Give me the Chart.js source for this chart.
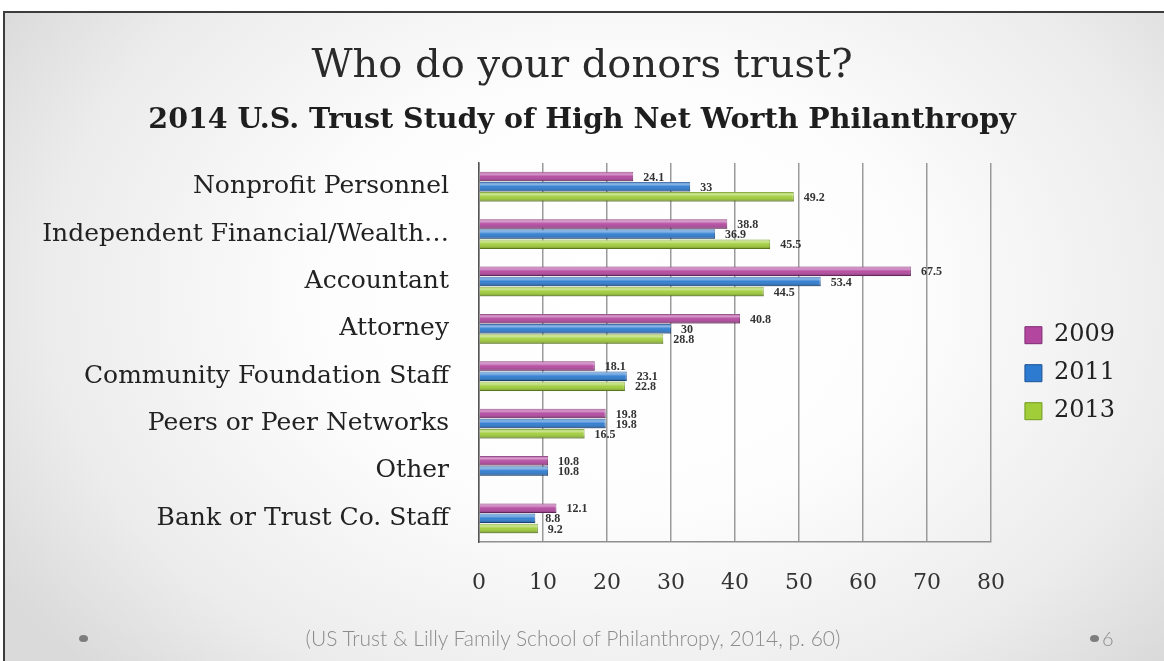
<!DOCTYPE html>
<html>
<head>
<meta charset="utf-8">
<script src="https://cdn.jsdelivr.net/npm/chart.js@4.4.1/dist/chart.umd.min.js"></script>
<style>
html,body{margin:0;padding:0;width:1164px;height:661px;overflow:hidden;background:#ffffff;}
#slide{position:absolute;left:3px;top:11px;width:1180px;height:680px;border:2px solid #3c3c3c;box-sizing:border-box;
  background:radial-gradient(ellipse 62% 80% at 52% 42%, #ffffff 0%, #fdfdfd 40%, #ececec 78%, #dadada 100%);}
#c{position:absolute;left:0;top:0;z-index:2;}
#footer{position:absolute;top:625px;left:223px;width:700px;text-align:center;font-family:Lato,"Open Sans",sans-serif;font-weight:300;font-size:21px;color:#8c8c8c;z-index:3;white-space:nowrap;}
.dot{position:absolute;width:9px;height:7px;border-radius:50%;background:#7d7d7d;z-index:3;}
#pnum{position:absolute;left:1102px;top:626px;font-family:Lato,sans-serif;font-weight:300;font-size:20px;color:#8c8c8c;z-index:3;}
</style>
</head>
<body>
<div id="slide"></div>
<canvas id="c" width="1164" height="661"></canvas>
<div id="footer">(US Trust &amp; Lilly Family School of Philanthropy, 2014, p. 60)</div>
<div class="dot" style="left:79px;top:635px;"></div>
<div class="dot" style="left:1090px;top:635px;"></div>
<div id="pnum">6</div>
<script>
const titleText = 'Who do your donors trust?';
const subtitleText = '2014 U.S. Trust Study of High Net Worth Philanthropy';
const categories = [
  'Nonprofit Personnel',
  'Independent Financial/Wealth\u2026',
  'Accountant',
  'Attorney',
  'Community Foundation Staff',
  'Peers or Peer Networks',
  'Other',
  'Bank or Trust Co. Staff'
];
const seriesNames = ['2009', '2011', '2013'];
const values2009 = [24.1, 38.8, 67.5, 40.8, 18.1, 19.8, 10.8, 12.1];
const values2011 = [33, 36.9, 53.4, 30, 23.1, 19.8, 10.8, 8.8];
const values2013 = [49.2, 45.5, 44.5, 28.8, 22.8, 16.5, null, 9.2];
const xTicks = [0, 10, 20, 30, 40, 50, 60, 70, 80];

const colors = ['#b3479f', '#2c7bd0', '#a0cd38'];
const borders = ['#7e2a72', '#1b5294', '#6f9a1c'];

const SERIF = '"DejaVu Serif", serif';

const barShade = {
  id: 'barShade',
  afterDatasetsDraw(chart) {
    const ctx = chart.ctx;
    ctx.save();
    chart.data.datasets.forEach((ds, i) => {
      const meta = chart.getDatasetMeta(i);
      meta.data.forEach((bar, j) => {
        if (ds.data[j] == null) return;
        const p = bar.getProps(['x', 'y', 'base', 'height'], true);
        const top = p.y - p.height / 2;
        const g = ctx.createLinearGradient(0, top, 0, top + p.height);
        g.addColorStop(0, 'rgba(255,255,255,0.15)');
        g.addColorStop(0.25, 'rgba(255,255,255,0.45)');
        g.addColorStop(0.5, 'rgba(255,255,255,0.05)');
        g.addColorStop(1, 'rgba(0,0,0,0.30)');
        ctx.fillStyle = g;
        ctx.fillRect(p.base, top, p.x - p.base, p.height);
      });
    });
    // value labels
    ctx.font = 'bold 12px "Liberation Serif", serif';
    ctx.fillStyle = '#333333';
    ctx.textAlign = 'left';
    ctx.textBaseline = 'middle';
    chart.data.datasets.forEach((ds, i) => {
      const meta = chart.getDatasetMeta(i);
      meta.data.forEach((bar, j) => {
        const v = ds.data[j];
        if (v == null) return;
        const p = bar.getProps(['x', 'y'], true);
        ctx.fillText(String(v), p.x + 10, p.y + 1);
      });
    });
    ctx.restore();
  }
};

new Chart(document.getElementById('c'), {
  type: 'bar',
  data: {
    labels: categories,
    datasets: [
      { label: seriesNames[0], data: values2009, backgroundColor: colors[0], borderColor: borders[0], borderWidth: 1 },
      { label: seriesNames[1], data: values2011, backgroundColor: colors[1], borderColor: borders[1], borderWidth: 1 },
      { label: seriesNames[2], data: values2013, backgroundColor: colors[2], borderColor: borders[2], borderWidth: 1 }
    ]
  },
  options: {
    indexAxis: 'y',
    responsive: false,
    animation: false,
    devicePixelRatio: 1,
    categoryPercentage: 0.64,
    barPercentage: 0.94,
    layout: { padding: { left: 39, right: 39, top: 0, bottom: 0 } },
    scales: {
      x: {
        type: 'linear',
        position: 'bottom',
        min: 0,
        max: 80,
        afterBuildTicks(s) { s.ticks = xTicks.map(v => ({ value: v })); },
        afterFit(s) { s.height = 119; },
        grid: { display: true, color: '#9a9a9a', lineWidth: 1.5, drawTicks: false },
        border: { display: true, color: '#8f8f8f', width: 1.5 },
        ticks: { padding: 28, color: '#333333', font: { family: SERIF, size: 22 } }
      },
      y: {
        type: 'category',
        position: 'left',
        afterFit(s) { s.width = 440; },
        grid: { display: false, drawTicks: false },
        border: { display: true, color: '#555555', width: 1.5 },
        ticks: { padding: 30, color: '#222222', font: { family: SERIF, size: 25 } }
      },
      pad: {
        type: 'linear',
        position: 'right',
        display: true,
        afterFit(s) { s.width = 20; },
        grid: { display: false, drawTicks: false },
        border: { display: false },
        ticks: { display: false }
      }
    },
    plugins: {
      title: {
        display: true,
        text: titleText,
        color: '#2a2a2a',
        font: { family: SERIF, size: 40, weight: 'normal', lineHeight: 1 },
        padding: { top: 47, bottom: 0 }
      },
      subtitle: {
        display: true,
        text: subtitleText,
        color: '#1e1e1e',
        font: { family: SERIF, size: 28.5, weight: 'bold', lineHeight: 1 },
        padding: { top: 19, bottom: 28.5 }
      },
      legend: {
        display: true,
        position: 'right',
        align: 'center',
        title: { display: true, text: ' ', font: { size: 12, lineHeight: 1.2 }, padding: { top: 35, bottom: 36 } },
        labels: {
          boxWidth: 17,
          boxHeight: 17,
          padding: 14,
          color: '#222222',
          font: { family: SERIF, size: 24 }
        }
      },
      tooltip: { enabled: false }
    }
  },
  plugins: [barShade]
});
</script>
</body>
</html>
